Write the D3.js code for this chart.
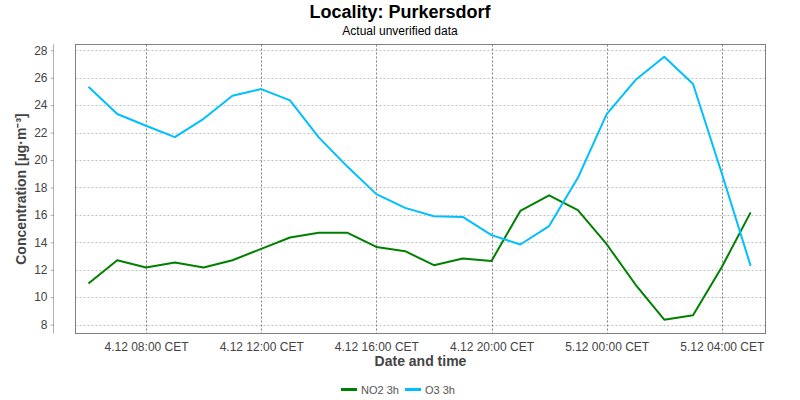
<!DOCTYPE html>
<html>
<head>
<meta charset="utf-8">
<script src="https://cdn.jsdelivr.net/npm/d3@7"></script>
<style>
  html, body { margin: 0; padding: 0; background: #fff; }
  svg { display: block; font-family: "Liberation Sans", Arial, sans-serif; }
</style>
</head>
<body>
<svg id="chart" width="800" height="400"></svg>
<script>
// ---- data ----
const startTime = new Date(2024, 11, 4, 6, 0);   // 4.12 06:00
const hours = d3.range(24);                       // hourly samples 06:00 .. 05:00
const times = hours.map(h => new Date(startTime.getTime() + h * 3600e3));
const no2 = [10.99, 12.69, 12.16, 12.53, 12.16, 12.69, 13.52, 14.35, 14.69, 14.69, 13.66, 13.35,
             12.33, 12.82, 12.64, 16.29, 17.42, 16.34, 13.86, 10.92, 8.36, 8.68, 12.2, 16.18];
const o3  = [25.34, 23.35, 22.5, 21.67, 23.0, 24.69, 25.17, 24.35, 21.65, 19.5, 17.51, 16.51,
             15.9, 15.85, 14.52, 13.84, 15.18, 18.7, 23.35, 25.83, 27.53, 25.54, 19.02, 12.28];
const seriesNames = ["NO2 3h", "O3 3h"];
const seriesColors = ["#008000", "#00bfff"];
const yTicks = [8, 10, 12, 14, 16, 18, 20, 22, 24, 26, 28];
const xTickTimes = [8, 12, 16, 20, 24, 28].map(h => new Date(2024, 11, 4, h, 0));

// ---- layout ----
const svg = d3.select("#chart");
const plot = { left: 75.5, right: 765.5, top: 44.5, bottom: 333.5 };

const x = d3.scaleTime()
  .domain([new Date(2024, 11, 4, 5, 33.4), new Date(2024, 11, 4, 29, 31)])
  .range([plot.left, plot.right]);
const y = d3.scaleLinear()
  .domain([7.35, 28.42])
  .range([plot.bottom, plot.top]);

svg.append("rect").attr("width", 800).attr("height", 400).attr("fill", "#fff");

// title
svg.append("text").attr("x", 400).attr("y", 18).attr("text-anchor", "middle")
  .attr("font-size", 18).attr("font-weight", "bold").attr("fill", "#000")
  .text("Locality: Purkersdorf");
svg.append("text").attr("x", 400).attr("y", 35).attr("text-anchor", "middle")
  .attr("font-size", 12).attr("fill", "#000")
  .text("Actual unverified data");

// grid
const grid = svg.append("g");
grid.selectAll("line.h").data(yTicks).join("line")
  .attr("x1", plot.left).attr("x2", plot.right)
  .attr("y1", d => Math.round(y(d)) + 0.5).attr("y2", d => Math.round(y(d)) + 0.5)
  .attr("stroke", "#c0c0c0").attr("stroke-width", 1).attr("stroke-dasharray", "2,2");
grid.selectAll("line.v").data(xTickTimes).join("line")
  .attr("x1", d => Math.round(x(d)) + 0.5).attr("x2", d => Math.round(x(d)) + 0.5)
  .attr("y1", plot.top).attr("y2", plot.bottom)
  .attr("stroke", "#808080").attr("stroke-width", 1).attr("stroke-dasharray", "2,2");

// lines
const line = d3.line().x((d, i) => x(times[i])).y(d => y(d));
[no2, o3].forEach((s, k) => {
  svg.append("path").datum(s).attr("d", line)
    .attr("fill", "none").attr("stroke", seriesColors[k]).attr("stroke-width", 2)
    .attr("stroke-linejoin", "round");
});

// frame
svg.append("rect").attr("x", plot.left).attr("y", plot.top)
  .attr("width", plot.right - plot.left).attr("height", plot.bottom - plot.top)
  .attr("fill", "none").attr("stroke", "#808080").attr("stroke-width", 1);

// y axis (offset)
const yAxis = d3.axisLeft(y).tickValues(yTicks).tickSize(3).tickPadding(3).tickSizeOuter(0);
const gy = svg.append("g").attr("transform", "translate(53.5,0)").call(yAxis);
gy.select(".domain").attr("stroke", "#b0b0b0").attr("d", `M0,${plot.top}V${plot.bottom}`);
gy.selectAll(".tick line").attr("stroke", "#b0b0b0");
gy.selectAll("text").attr("font-size", 12).attr("fill", "#444")
  .attr("font-family", "Liberation Sans, Arial, sans-serif");

// x axis (labels only)
const fmt = d3.timeFormat("%-d.%-m %H:%M");
const xAxis = d3.axisBottom(x).tickValues(xTickTimes).tickSize(0).tickPadding(9)
  .tickFormat(d => fmt(d) + " CET");
const gx = svg.append("g").attr("transform", `translate(0,${plot.bottom})`).call(xAxis);
gx.select(".domain").remove();
gx.selectAll("text").attr("font-size", 12).attr("fill", "#444")
  .attr("font-family", "Liberation Sans, Arial, sans-serif");

// axis titles
svg.append("text").attr("x", (plot.left + plot.right) / 2).attr("y", 366)
  .attr("text-anchor", "middle").attr("font-size", 14).attr("font-weight", "bold").attr("fill", "#444")
  .text("Date and time");
svg.append("text").attr("transform", `translate(26,${(plot.top + plot.bottom) / 2}) rotate(-90)`)
  .attr("text-anchor", "middle").attr("font-size", 14).attr("font-weight", "bold").attr("fill", "#444")
  .text("Concentration [µg·m⁻³]");

// legend
const legend = svg.append("g");
const legX = [341, 405];
seriesNames.forEach((n, k) => {
  legend.append("line").attr("x1", legX[k]).attr("x2", legX[k] + 16)
    .attr("y1", 389.5).attr("y2", 389.5).attr("stroke", seriesColors[k]).attr("stroke-width", 3);
  legend.append("text").attr("x", legX[k] + 20).attr("y", 393.5)
    .attr("font-size", 11).attr("fill", "#555").text(n);
});
</script>
</body>
</html>
